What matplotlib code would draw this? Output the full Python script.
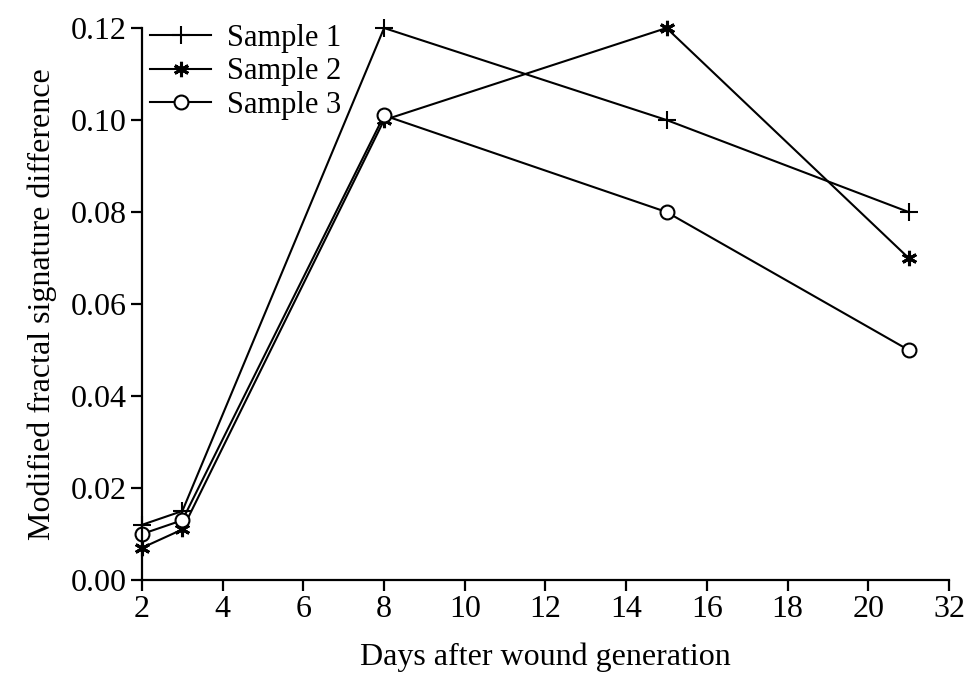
import matplotlib
matplotlib.use("Agg")
import matplotlib.pyplot as plt

days = [2, 3, 8, 15, 21]
sample1 = [0.012, 0.015, 0.120, 0.100, 0.080]
sample2 = [0.007, 0.011, 0.100, 0.120, 0.070]
sample3 = [0.010, 0.013, 0.101, 0.080, 0.050]

x_ticks = [2, 4, 6, 8, 10, 12, 14, 16, 18, 20, 22]
x_tick_labels = ['2', '4', '6', '8', '10', '12', '14', '16', '18', '20', '32']
y_ticks = [0.00, 0.02, 0.04, 0.06, 0.08, 0.10, 0.12]

plt.rcParams['font.family'] = ['Liberation Serif', 'DejaVu Serif']

fig = plt.figure(figsize=(9.74, 6.75), dpi=100)
ax = fig.add_axes([0.1458, 0.1407, 0.8285, 0.8178])

ax.plot(days, sample1, color='black', lw=1.5, marker='+', ms=13, mew=1.5,
        clip_on=False, label='Sample 1')
ax.plot(days, sample2, color='black', lw=1.5, marker=(6, 2, 0), ms=11, mew=2.2,
        clip_on=False, label='Sample 2')
ax.plot(days, sample3, color='black', lw=1.5, marker='o', ms=10, mfc='white', mew=1.5,
        clip_on=False, label='Sample 3')

ax.set_xlim(2, 22)
ax.set_ylim(0, 0.12)
ax.set_xticks(x_ticks)
ax.set_xticklabels(x_tick_labels)
ax.set_yticks(y_ticks)
ax.set_yticklabels(['%.2f' % v for v in y_ticks])

for s in ['top', 'right']:
    ax.spines[s].set_visible(False)
for s in ['left', 'bottom']:
    ax.spines[s].set_linewidth(1.6)
ax.tick_params(direction='out', length=8, width=1.6, labelsize=23, pad=3)

ax.set_xlabel('Days after wound generation', fontsize=23, labelpad=13)
ax.set_ylabel('Modified fractal signature difference', fontsize=23, labelpad=10)

ax.legend(loc='upper left', frameon=False, fontsize=22, handlelength=2.0,
          borderaxespad=0, bbox_to_anchor=(-0.005, 1.03), labelspacing=0.15,
          handletextpad=0.5)

fig.savefig('out.png', dpi=100)
